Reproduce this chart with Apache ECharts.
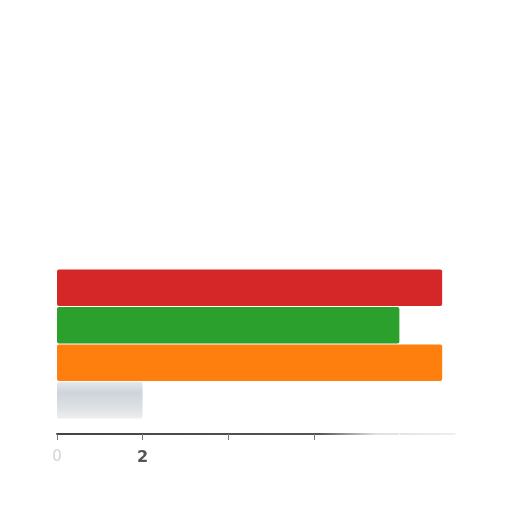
<!DOCTYPE html>
<html lang="en">
<head>
    <meta charset="UTF-8">
    <title>Bars</title>
    <script src="https://cdn.jsdelivr.net/npm/echarts@6/dist/echarts.min.js"></script>
    <style>
        html, body { margin: 0; padding: 0; background: #fff; }
        #main { width: 512px; height: 512px; }
    </style>
</head>
<body>
<div id="main"></div>
<script>
    // values, top bar first
    var categories = ['A', 'B', 'C', 'D'];
    var values = [9, 8, 9, 2];
    var barColors = ['#d62728', '#2ca02c', '#ff7f0e', '#d3d9de'];
    var shownLabels = ['0', '2'];

    var myChart = echarts.init(document.getElementById('main'));

    // axis fades out towards the right
    var fade = new echarts.graphic.LinearGradient(57, 0, 455, 0, [
        { offset: 0, color: '#444' },
        { offset: 0.66, color: '#555' },
        { offset: 0.8, color: '#e0e0e0' },
        { offset: 1, color: '#eee' }
    ], true);
    var tickFade = new echarts.graphic.LinearGradient(57, 0, 455, 0, [
        { offset: 0, color: '#777' },
        { offset: 0.68, color: '#777' },
        { offset: 0.75, color: '#fff' },
        { offset: 1, color: '#fff' }
    ], true);

    var option = {
        animation: false,
        grid: {
            left: 57,
            right: 57,
            top: 269,
            bottom: 93
        },
        xAxis: {
            type: 'value',
            min: 0,
            max: 9.3,
            interval: 2,
            offset: 15,
            splitLine: { show: false },
            axisLine: {
                show: true,
                lineStyle: { width: 2, color: fade }
            },
            axisTick: {
                show: true,
                length: 6,
                lineStyle: { color: tickFade }
            },
            axisLabel: {
                fontFamily: 'DejaVu Sans',
                margin: 16,
                formatter: function (v) {
                    var s = String(v);
                    if (shownLabels.indexOf(s) < 0) return '';
                    return s === '0' ? '{faint|' + s + '}' : '{dark|' + s + '}';
                },
                rich: {
                    faint: { fontSize: 15, color: '#d4d4d4' },
                    dark: { fontSize: 16, fontWeight: 'bold', color: '#555' }
                }
            }
        },
        yAxis: {
            type: 'category',
            data: categories,
            inverse: true,
            axisLine: { show: false },
            axisTick: { show: false },
            axisLabel: { show: false }
        },
        series: [{
            type: 'bar',
            barCategoryGap: '3%',
            data: values.map(function (v, i) {
                var c = barColors[i];
                if (i === 3) {
                    c = new echarts.graphic.LinearGradient(0, 0, 0, 1, [
                        { offset: 0, color: '#e4e8eb' },
                        { offset: 0.3, color: '#cdd4db' },
                        { offset: 0.7, color: '#dde1e4' },
                        { offset: 1, color: '#eeeeee' }
                    ]);
                }
                return { value: v, itemStyle: { color: c, borderRadius: 2 } };
            })
        }]
    };

    myChart.setOption(option);
</script>
</body>
</html>
